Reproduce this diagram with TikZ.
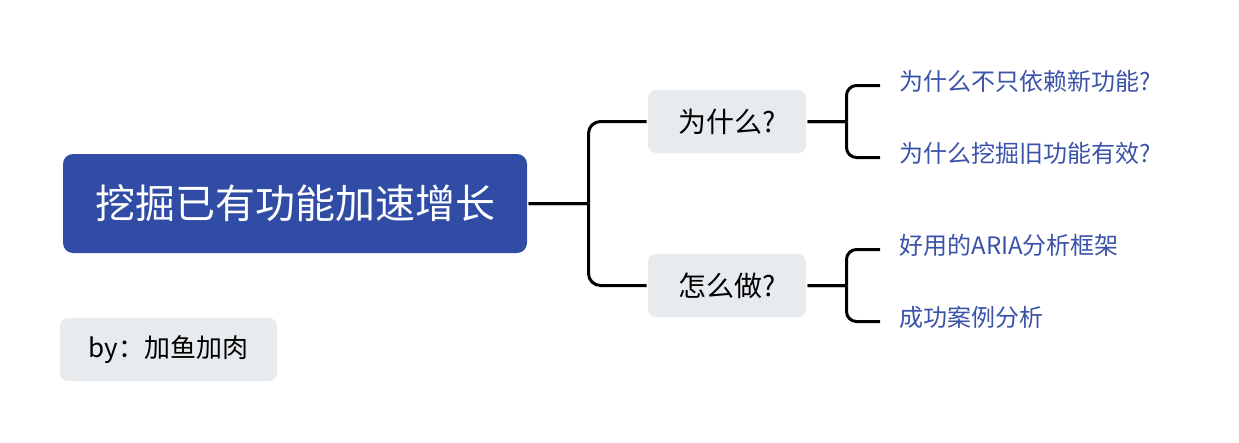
\documentclass[tikz,border=0pt]{standalone}
\usepackage{fontspec}
\usepackage{tikz}
\usetikzlibrary{positioning}
\newfontfamily\cjk{Noto Sans CJK SC}
\definecolor{rootblue}{HTML}{314CA5}
\definecolor{leafblue}{HTML}{3A52A8}
\definecolor{boxgray}{HTML}{E8EBEE}

\begin{document}
\begin{tikzpicture}[x=1pt, y=-1pt,
every node/.style = {align=center, text centered, font=\cjk},
rootbox/.style = {fill=rootblue, text=white, rounded corners=10pt,
  minimum width=464pt, minimum height=99pt, font=\cjk\fontsize{40}{48}\selectfont},
topicbox/.style = {fill=boxgray, text=black, rounded corners=8pt,
  minimum width=158pt, minimum height=63pt, font=\cjk\fontsize{28}{33}\selectfont},
leaftext/.style = {anchor=west, yshift=4.5pt, inner sep=0pt, align=left,
  text=leafblue, font=\cjk\fontsize{24}{28}\selectfont},
line width=3pt,
grow'=right,
level 1/.style={level distance=432pt, sibling distance=164pt,
  edge from parent path={(\tikzparentnode.east) -- ++(60,0)
    (\tikzparentnode.east) ++(60,0) [rounded corners=12pt] |- (\tikzchildnode.west)}},
level 2/.style={level distance=171pt, sibling distance=72pt,
  edge from parent path={(\tikzparentnode.east) -- ++(39,0)
    (\tikzparentnode.east) ++(39,0) [rounded corners=10pt]
    |- ([xshift=-18pt,yshift=-4.5pt]\tikzchildnode.west)}} ]
\useasboundingbox (0,0) rectangle (1239,442);
\node[rootbox] (root) at (295,203.5) {挖掘已有功能加速增长}
child {
  node[topicbox] (why) {为什么?}
  child {
    node[leaftext] (whynew) {为什么不只依赖新功能?}
  }
  child {
    node[leaftext] (whyold) {为什么挖掘旧功能有效?}
  }
}
child {
  node[topicbox] (how) {怎么做?}
  child {
    node[leaftext] (aria) {好用的ARIA分析框架}
  }
  child {
    node[leaftext] (cases) {成功案例分析}
  }
};
\node[topicbox, minimum width=217pt, font=\cjk\fontsize{26}{31}\selectfont]
  (author) at (168.5,349.5) {by：加鱼加肉};
\end{tikzpicture}
\end{document}
